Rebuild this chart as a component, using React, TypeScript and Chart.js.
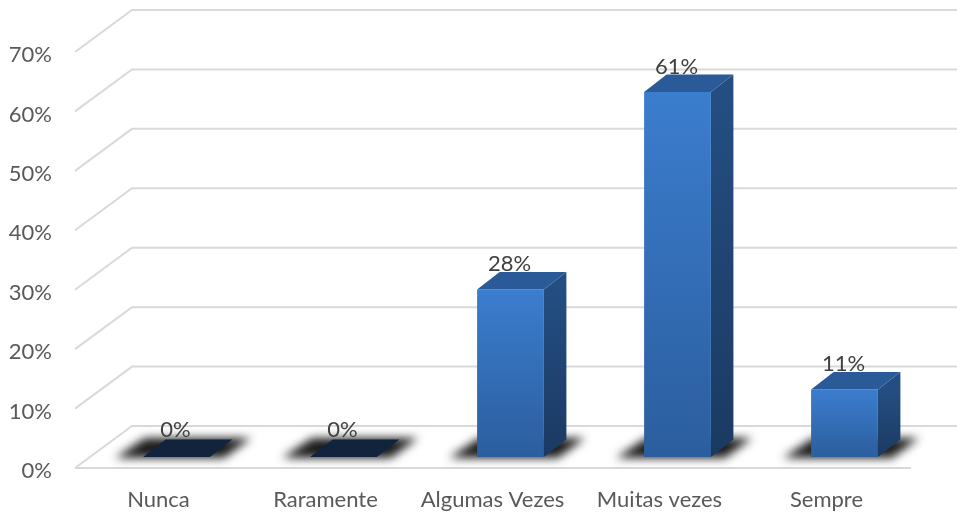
import React, { useEffect, useRef } from "react";
import { Chart, registerables } from "chart.js";

Chart.register(...registerables);

const categories = ["Nunca", "Raramente", "Algumas Vezes", "Muitas vezes", "Sempre"];
const shares = [0, 0, 28, 61, 11.3];
const axisMax = 70;
const axisStep = 10;

const FONT = "Lato";
const FONT_SIZE = 22;
const WALL_DX = 57;
const WALL_DY = 42;
const BAR_SHIFT = 18;
const DEPTH_DX = 22.5;
const DEPTH_DY = 17.5;

const faceGradient = (ctx: CanvasRenderingContext2D, top: number, bottom: number, a: string, b: string) => {
  if (!Number.isFinite(top) || !Number.isFinite(bottom)) return a;
  const g = ctx.createLinearGradient(0, top, 0, bottom);
  g.addColorStop(0, a);
  g.addColorStop(1, b);
  return g;
};

const wallPlugin = {
  id: "wall",
  beforeDatasetsDraw(chart: any) {
    const { ctx, chartArea, scales, width } = chart;
    const y = scales.y;
    ctx.save();
    ctx.strokeStyle = "#d9d9d9";
    ctx.lineWidth = 2;
    y.ticks.forEach((t: any) => {
      const py = y.getPixelForValue(t.value);
      ctx.beginPath();
      ctx.moveTo(chartArea.left, py);
      ctx.lineTo(chartArea.left + WALL_DX, py - WALL_DY);
      ctx.lineTo(width, py - WALL_DY);
      ctx.stroke();
      if (t.value === 0) {
        ctx.beginPath();
        ctx.moveTo(chartArea.left, py);
        ctx.lineTo(chartArea.right + 1, py);
        ctx.stroke();
      }
    });
    ctx.fillStyle = "#595959";
    ctx.font = `${FONT_SIZE}px ${FONT}`;
    ctx.textAlign = "right";
    ctx.textBaseline = "middle";
    y.ticks.forEach((t: any) => {
      ctx.fillText(`${t.value}%`, chartArea.left - 23, y.getPixelForValue(t.value) + 3);
    });
    ctx.restore();
  },
};

const barsPlugin = {
  id: "bars3d",
  beforeDatasetDraw(chart: any, args: any) {
    const { ctx } = chart;
    const meta = chart.getDatasetMeta(args.index);
    ctx.save();
    ctx.translate(BAR_SHIFT, 0);
    meta.data.forEach((el: any) => {
      const p = el.getProps(["x", "y", "base", "width"], true);
      const x0 = p.x - p.width / 2;
      const x1 = p.x + p.width / 2;
      const b = p.base;
      ctx.save();
      ctx.filter = "blur(5px)";
      ctx.fillStyle = "rgba(15,15,15,0.95)";
      ctx.beginPath();
      ctx.moveTo(x0 - 28, b + 1);
      ctx.lineTo(x1 + 14, b + 1);
      ctx.lineTo(x1 + 41, b - 19);
      ctx.lineTo(x0 + 2, b - 19);
      ctx.closePath();
      ctx.fill();
      ctx.restore();
    });
    meta.data.forEach((el: any) => {
      const p = el.getProps(["x", "y", "base", "width"], true);
      const x1 = p.x + p.width / 2;
      if (p.base - p.y < 1) return;
      ctx.fillStyle = faceGradient(ctx, p.y, p.base, "#244e82", "#1b3a62");
      ctx.beginPath();
      ctx.moveTo(x1, p.y);
      ctx.lineTo(x1 + DEPTH_DX, p.y - DEPTH_DY);
      ctx.lineTo(x1 + DEPTH_DX, p.base - DEPTH_DY);
      ctx.lineTo(x1, p.base);
      ctx.closePath();
      ctx.fill();
    });
  },
  afterDatasetDraw(chart: any, args: any) {
    const { ctx } = chart;
    const meta = chart.getDatasetMeta(args.index);
    meta.data.forEach((el: any) => {
      const p = el.getProps(["x", "y", "base", "width"], true);
      const x0 = p.x - p.width / 2;
      const x1 = p.x + p.width / 2;
      const flat = p.base - p.y < 1;
      ctx.fillStyle = flat ? "#12233d" : "#2a5b98";
      ctx.beginPath();
      ctx.moveTo(x0, p.y);
      ctx.lineTo(x1, p.y);
      ctx.lineTo(x1 + DEPTH_DX, p.y - DEPTH_DY);
      ctx.lineTo(x0 + DEPTH_DX, p.y - DEPTH_DY);
      ctx.closePath();
      ctx.fill();
    });
    ctx.restore();
  },
  afterDatasetsDraw(chart: any) {
    const { ctx } = chart;
    const meta = chart.getDatasetMeta(0);
    ctx.save();
    ctx.fillStyle = "#404040";
    ctx.font = `${FONT_SIZE}px ${FONT}`;
    ctx.textAlign = "center";
    ctx.textBaseline = "middle";
    meta.data.forEach((el: any, i: number) => {
      const p = el.getProps(["x", "y"], true);
      const v = shares[i];
      ctx.fillText(`${Math.round(v)}%`, p.x + BAR_SHIFT - 1, p.y + (v === 0 ? -27 : -25.5));
    });
    ctx.restore();
  },
};

export default function App() {
  const ref = useRef<HTMLCanvasElement>(null);
  useEffect(() => {
    const chart = new Chart(ref.current as HTMLCanvasElement, {
      type: "bar",
      data: {
        labels: categories,
        datasets: [
          {
            data: shares,
            yAxisID: "bars",
            categoryPercentage: 1,
            barPercentage: 0.4,
            borderWidth: 0,
            backgroundColor: (c: any) => {
              const { chart: ch, parsed } = c;
              if (!parsed || !ch.scales.bars) return "#3b7bcb";
              const s = ch.scales.bars;
              return faceGradient(ch.ctx, s.getPixelForValue(parsed.y), s.getPixelForValue(0), "#3b7dce", "#2b5e9e");
            },
          },
        ],
      },
      options: {
        animation: false,
        responsive: false,
        layout: { padding: { top: 52, right: 47, bottom: 0, left: 0 } },
        plugins: { legend: { display: false }, title: { display: false }, tooltip: { enabled: false } },
        scales: {
          x: {
            grid: { display: false, drawTicks: false },
            border: { display: false },
            ticks: { color: "#595959", font: { family: FONT, size: FONT_SIZE }, padding: 19, maxRotation: 0, autoSkip: false },
            afterFit: (s: any) => {
              s.height = 46;
              s.paddingLeft = 0;
              s.paddingRight = 0;
            },
          },
          y: {
            min: 0,
            max: axisMax,
            grid: { display: false, drawTicks: false },
            border: { display: false },
            ticks: { display: false, stepSize: axisStep },
            afterFit: (s: any) => {
              s.width = 75;
              s.paddingTop = 0;
              s.paddingBottom = 0;
            },
          },
          bars: { display: false, min: -1.84, max: 67.7 },
        },
      },
      plugins: [wallPlugin, barsPlugin],
    } as any);
    return () => chart.destroy();
  }, []);
  return <canvas ref={ref} width={957} height={514} style={{ position: "absolute", left: 0, top: 0, display: "block" }} />;
}
